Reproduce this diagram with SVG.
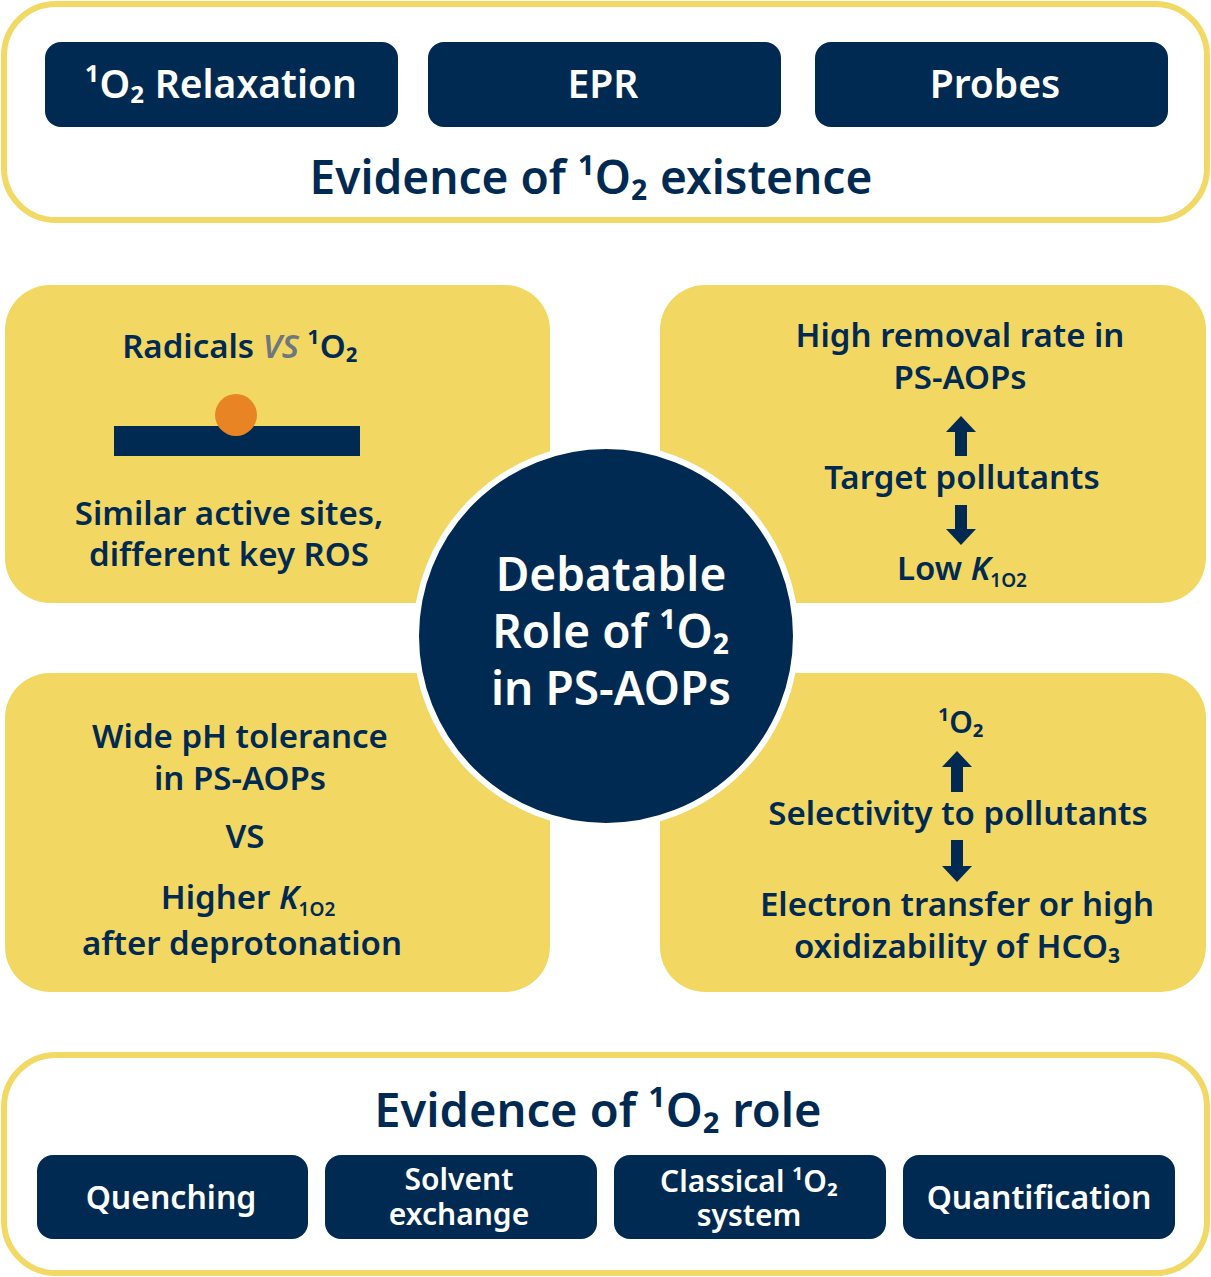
<svg xmlns="http://www.w3.org/2000/svg" width="1211" height="1277" viewBox="0 0 1211 1277">
<style>
.frame{fill:#fff;stroke:#F2D965;stroke-width:6}
.btn{fill:#012A52}
.panel{fill:#F2D862}
.t{font-family:"Noto Sans",Lato,sans-serif;font-weight:600;fill:#012A52;text-anchor:middle}
.w{fill:#fff}
.ar{fill:#012A52}
</style>
<g id="top">
<rect class="frame" x="4" y="4" width="1203" height="216" rx="52"/>
<g id="b1"><rect class="btn" x="45" y="42" width="353" height="85" rx="16"/><text class="t w" x="221" y="98" font-size="39" font-weight="500">¹O₂ Relaxation</text></g>
<g id="b2"><rect class="btn" x="428" y="42" width="353" height="85" rx="16"/><text class="t w" x="603" y="98" font-size="39" font-weight="500">EPR</text></g>
<g id="b3"><rect class="btn" x="815" y="42" width="353" height="85" rx="16"/><text class="t w" x="995" y="98" font-size="39" font-weight="500">Probes</text></g>
<text class="t" x="591" y="194" font-size="46" font-weight="500">Evidence of ¹O₂ existence</text>
</g>
<g id="tl"><rect class="panel" x="5" y="285" width="545" height="318" rx="45"/>
<text class="t" x="240" y="358" font-size="33">Radicals <tspan fill="#6E7780" font-style="italic">VS</tspan> ¹O₂</text>
<rect class="btn" x="114" y="426" width="246" height="30"/>
<circle cx="236" cy="415" r="21" fill="#E88424"/>
<text class="t" x="229" y="525" font-size="33">Similar active sites,</text>
<text class="t" x="229" y="566" font-size="33">different key ROS</text>
</g>
<g id="tr"><rect class="panel" x="660" y="285" width="546" height="318" rx="45"/>
<text class="t" x="960" y="347" font-size="33">High removal rate in</text>
<text class="t" x="960" y="389" font-size="33">PS-AOPs</text>
<text class="t" x="962" y="489" font-size="33">Target pollutants</text>
<text class="t" x="962" y="580" font-size="33">Low <tspan font-style="italic">K</tspan><tspan font-size="19" dy="7">1O2</tspan></text>
</g>
<g id="bl"><rect class="panel" x="5" y="673" width="545" height="319" rx="45"/>
<text class="t" x="240" y="748" font-size="33">Wide pH tolerance</text>
<text class="t" x="240" y="790" font-size="33">in PS-AOPs</text>
<text class="t" x="245" y="848" font-size="33">VS</text>
<text class="t" x="248" y="909" font-size="33">Higher <tspan font-style="italic">K</tspan><tspan font-size="19" dy="7">1O2</tspan></text>
<text class="t" x="242" y="955" font-size="33">after deprotonation</text>
</g>
<g id="br"><rect class="panel" x="660" y="673" width="546" height="319" rx="45"/>
<text class="t" x="961" y="733" font-size="30">¹O₂</text>
<text class="t" x="958" y="825" font-size="33">Selectivity to pollutants</text>
<text class="t" x="957" y="916" font-size="33">Electron transfer or high</text>
<text class="t" x="957" y="958" font-size="33">oxidizability of HCO₃</text>
</g>
<g id="connectors">
<path class="ar" d="M961 416 L976 432 L967 432 L967 456 L955 456 L955 432 L946 432 Z"/>
<path class="ar" d="M961 545 L976 529 L967 529 L967 505 L955 505 L955 529 L946 529 Z"/>
<path class="ar" d="M957 751 L972 767 L963 767 L963 792 L951 792 L951 767 L942 767 Z"/>
<path class="ar" d="M957 882 L972 866 L963 866 L963 840 L951 840 L951 866 L942 866 Z"/>
</g>
<g id="center"><circle cx="606" cy="636" r="190" fill="#012A52" stroke="#fff" stroke-width="6"/>
<text class="t w" x="611" y="591" font-size="46" font-weight="800">Debatable</text>
<text class="t w" x="611" y="648" font-size="46" font-weight="800">Role of ¹O₂</text>
<text class="t w" x="611" y="705" font-size="46" font-weight="800">in PS-AOPs</text>
</g>
<g id="bottom">
<rect class="frame" x="4" y="1055" width="1203" height="218" rx="52"/>
<text class="t" x="598" y="1127" font-size="47" font-weight="500">Evidence of ¹O₂ role</text>
<g id="q1"><rect class="btn" x="37" y="1155" width="271" height="84" rx="16"/><text class="t w" x="171" y="1209" font-size="32" font-weight="500">Quenching</text></g>
<g id="q2"><rect class="btn" x="325" y="1155" width="272" height="84" rx="16"/><text class="t w" x="459" y="1190" font-size="30" font-weight="500">Solvent</text><text class="t w" x="459" y="1225" font-size="30" font-weight="500">exchange</text></g>
<g id="q3"><rect class="btn" x="614" y="1155" width="272" height="84" rx="16"/><text class="t w" x="749" y="1192" font-size="30" font-weight="500">Classical ¹O₂</text><text class="t w" x="749" y="1226" font-size="30" font-weight="500">system</text></g>
<g id="q4"><rect class="btn" x="903" y="1155" width="272" height="84" rx="16"/><text class="t w" x="1039" y="1209" font-size="32" font-weight="500">Quantification</text></g>
</g>
</svg>
